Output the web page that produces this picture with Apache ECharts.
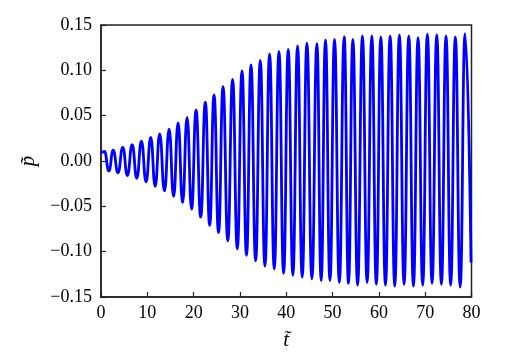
<!DOCTYPE html>
<html>
<head>
<meta charset="utf-8">
<script src="https://cdn.jsdelivr.net/npm/echarts@6/dist/echarts.min.js"></script>
<style>html,body{margin:0;padding:0;background:#fff}#c{width:506px;height:358px}</style>
</head>
<body>
<div id="c"></div>
<script>
// Extrema (peaks/troughs) of the pressure signal
var timeVals = [0.0, 0.75, 1.7, 2.63, 3.67, 4.7, 5.7, 6.73, 7.73, 8.73, 9.73, 10.74, 11.7, 12.68, 13.7, 14.71, 15.68, 16.65, 17.62, 18.59, 19.56, 20.53, 21.53, 22.53, 23.47, 24.41, 25.38, 26.35, 27.38, 28.42, 29.43, 30.45, 31.42, 32.39, 33.39, 34.39, 35.4, 36.4, 37.41, 38.43, 39.43, 40.43, 41.43, 42.44, 43.45, 44.46, 45.54, 46.62, 47.54, 48.47, 49.44, 50.42, 51.46, 52.51, 53.44, 54.38, 55.41, 56.45, 57.46, 58.48, 59.45, 60.42, 61.42, 62.43, 63.43, 64.43, 65.44, 66.46, 67.46, 68.46, 69.46, 70.47, 71.48, 72.5, 73.5, 74.5, 75.5, 76.51, 77.55, 78.6, 79.9];
var pressureVals = [0.009, 0.0105, -0.011, 0.012, -0.013, 0.015, -0.016, 0.018, -0.019, 0.022, -0.023, 0.026, -0.028, 0.030, -0.033, 0.035, -0.039, 0.042, -0.046, 0.048, -0.053, 0.056, -0.062, 0.065, -0.071, 0.073, -0.079, 0.082, -0.088, 0.090, -0.097, 0.0995, -0.104, 0.106, -0.110, 0.111, -0.116, 0.118, -0.119, 0.121, -0.124, 0.123, -0.126, 0.127, -0.128, 0.130, -0.130, 0.1295, -0.132, 0.1335, -0.132, 0.134, -0.134, 0.137, -0.135, 0.134, -0.137, 0.138, -0.134, 0.138, -0.136, 0.137, -0.137, 0.138, -0.138, 0.139, -0.136, 0.138, -0.138, 0.136, -0.137, 0.140, -0.135, 0.139, -0.136, 0.138, -0.137, 0.137, -0.139, 0.1405, -0.112];
var xTicks = [0, 10, 20, 30, 40, 50, 60, 70, 80];
var yTicks = [-0.15, -0.10, -0.05, 0.00, 0.05, 0.10, 0.15];

var seriesData = timeVals.map(function (t, i) { return [t, pressureVals[i]]; });
var font = '"Liberation Serif", "Times New Roman", serif';
var chart = echarts.init(document.getElementById('c'), null, {renderer: 'canvas'});
chart.setOption({
  animation: false,
  backgroundColor: '#fff',
  grid: {left: 101, right: 34.5, top: 25, bottom: 61, show: true, borderColor: '#222', borderWidth: 1.5, backgroundColor: 'transparent'},
  xAxis: {
    type: 'value', min: xTicks[0], max: xTicks[xTicks.length - 1], interval: 10,
    name: 't\u0303', nameLocation: 'middle', nameGap: 33,
    nameTextStyle: {fontFamily: font, fontStyle: 'italic', fontSize: 21, color: '#000'},
    axisLine: {show: true, onZero: false, lineStyle: {color: '#222', width: 1.5}},
    axisTick: {show: true, inside: true, length: 5, lineStyle: {color: '#222', width: 1.2}},
    axisLabel: {fontFamily: font, fontSize: 18, color: '#000', margin: 7},
    splitLine: {show: false}
  },
  yAxis: {
    type: 'value', min: yTicks[0], max: yTicks[yTicks.length - 1], interval: 0.05,
    name: 'p\u0303', nameLocation: 'middle', nameGap: 62, nameRotate: 90,
    nameTextStyle: {fontFamily: font, fontStyle: 'italic', fontSize: 21, color: '#000'},
    axisLine: {show: true, onZero: false, lineStyle: {color: '#222', width: 1.5}},
    axisTick: {show: true, inside: true, length: 5, lineStyle: {color: '#222', width: 1.2}},
    axisLabel: {fontFamily: font, fontSize: 18, color: '#000', margin: 9,
      formatter: function (v) { if (Math.abs(v) < 1e-9) return '0.00'; return v.toFixed(2).replace('-', '\u2212'); }},
    splitLine: {show: false}
  },
  series: [{
    type: 'line', data: seriesData, showSymbol: false, smooth: 0.5, smoothMonotone: 'x',
    lineStyle: {color: '#0000ff', width: 2.8}, clip: true
  }]
});
</script>
</body>
</html>
